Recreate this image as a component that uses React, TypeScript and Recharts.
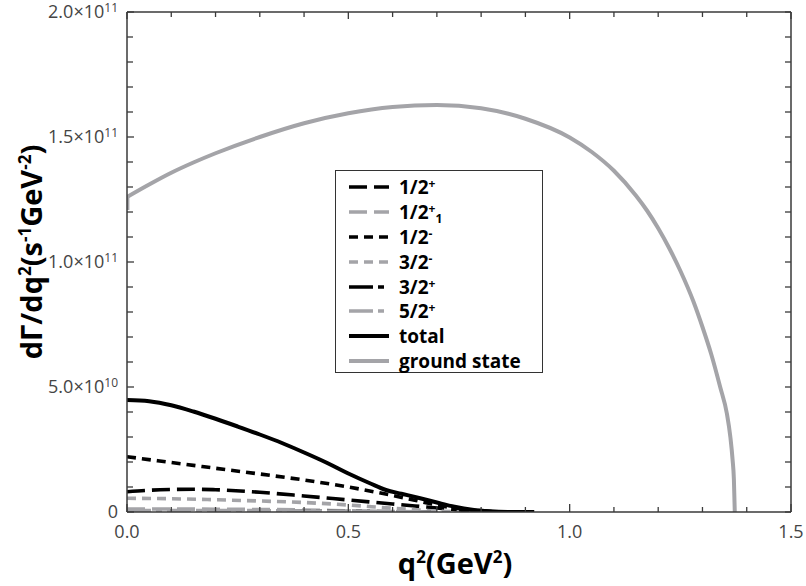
import React from 'react';
import { LineChart, Line, XAxis, YAxis } from 'recharts';

// q^2 in GeV^2, rates in units of 1e9 s^-1 GeV^-2
const qGround = [0, 0.05, 0.1, 0.15, 0.2, 0.3, 0.4, 0.5, 0.6, 0.7, 0.8, 0.9, 1.0, 1.05, 1.1, 1.15, 1.175, 1.2, 1.225, 1.25, 1.28, 1.3, 1.32, 1.34, 1.355, 1.363, 1.368, 1.371, 1.373];
const vGround = [126, 131, 135.7, 139.8, 143.5, 150, 155.5, 159.5, 162, 162.8, 161.5, 157.3, 149.8, 144, 136.5, 126.5, 120.5, 113.5, 105.5, 96.5, 84, 74, 63, 50, 39.5, 30, 21, 13, 0];

// short vertical step of the ground-state curve at q^2 = 0
const qGroundEdge = [0.002, 0.002];
const vGroundEdge = [120.8, 126];

const qTotal = [0, 0.05, 0.1, 0.15, 0.2, 0.25, 0.3, 0.35, 0.4, 0.45, 0.5, 0.55, 0.585, 0.62, 0.66, 0.7, 0.74, 0.78, 0.82, 0.86, 0.92];
const vTotal = [44.8, 44.3, 42.7, 40.2, 37.3, 34.2, 31.0, 27.6, 23.8, 19.8, 15.4, 11.4, 8.8, 7.3, 5.6, 3.8, 2.1, 0.9, 0.3, 0.05, 0];

const qHalfMinus = [0, 0.1, 0.2, 0.3, 0.4, 0.5, 0.6, 0.65, 0.7, 0.75, 0.8, 0.85];
const vHalfMinus = [22.1, 19.8, 17.5, 15.2, 12.8, 10.0, 6.6, 4.7, 2.8, 1.3, 0.4, 0];

const qHalfPlus = [0, 0.05, 0.1, 0.15, 0.2, 0.3, 0.4, 0.5, 0.6, 0.7, 0.75, 0.8, 0.83];
const vHalfPlus = [8.1, 8.7, 9.0, 9.1, 8.9, 7.9, 6.4, 4.8, 3.2, 1.6, 0.8, 0.2, 0];

const qThreeHalfMinus = [0, 0.1, 0.2, 0.3, 0.4, 0.5, 0.6, 0.7, 0.75];
const vThreeHalfMinus = [5.5, 5.3, 4.9, 4.4, 3.8, 2.8, 1.5, 0.4, 0];

const qHalfPlus1 = [0, 0.1, 0.2, 0.3, 0.4, 0.5, 0.6, 0.7];
const vHalfPlus1 = [1.2, 1.2, 1.1, 1.0, 0.8, 0.5, 0.2, 0];

const qThreeHalfPlus = [0, 0.2, 0.4, 0.6, 0.7];
const vThreeHalfPlus = [0.4, 0.4, 0.3, 0.1, 0];

const qFiveHalfPlus = [0, 0.2, 0.4, 0.6, 0.7];
const vFiveHalfPlus = [0.6, 0.6, 0.4, 0.1, 0];

const xTicks = [0, 0.1, 0.2, 0.3, 0.4, 0.5, 0.6, 0.7, 0.8, 0.9, 1.0, 1.1, 1.2, 1.3, 1.4, 1.5];
const xMajor = [0, 0.5, 1.0, 1.5];
const xLabels = ['0.0', '0.5', '1.0', '1.5'];

const yTicks = [0, 10, 20, 30, 40, 50, 60, 70, 80, 90, 100, 110, 120, 130, 140, 150, 160, 170, 180, 190, 200];
const yMajor = [0, 50, 100, 150, 200];
const yMantissa = ['0', '5.0', '1.0', '1.5', '2.0'];
const yExponent = ['', '10', '11', '11', '11'];

const BLACK = '#000000';
const GRAY = '#a4a4a8';
const AXIS = '#3a3a3a';
const FONT = '"Open Sans", "DejaVu Sans", sans-serif';

const toPts = (q: number[], v: number[]) => q.map((x, i) => ({ q: x, v: v[i] }));

type Series = {
  key: string;
  main: string;
  sup?: string;
  sub?: string;
  color: string;
  dash?: string;
  width: number;
  data: { q: number; v: number }[];
};

const series: Series[] = [
  { key: 'hp', main: '1/2', sup: '+', color: BLACK, dash: '18 7', width: 3.6, data: toPts(qHalfPlus, vHalfPlus) },
  { key: 'hp1', main: '1/2', sup: '+', sub: '1', color: GRAY, dash: '18 7', width: 3.6, data: toPts(qHalfPlus1, vHalfPlus1) },
  { key: 'hm', main: '1/2', sup: '-', color: BLACK, dash: '9 6', width: 3.6, data: toPts(qHalfMinus, vHalfMinus) },
  { key: 'thm', main: '3/2', sup: '-', color: GRAY, dash: '9 6', width: 3.6, data: toPts(qThreeHalfMinus, vThreeHalfMinus) },
  { key: 'thp', main: '3/2', sup: '+', color: BLACK, dash: '24 5 6 5', width: 3.6, data: toPts(qThreeHalfPlus, vThreeHalfPlus) },
  { key: 'fhp', main: '5/2', sup: '+', color: GRAY, dash: '24 5 6 5', width: 3.6, data: toPts(qFiveHalfPlus, vFiveHalfPlus) },
  { key: 'tot', main: 'total', color: BLACK, width: 4, data: toPts(qTotal, vTotal) },
  { key: 'gs', main: 'ground state', color: GRAY, width: 4, data: toPts(qGround, vGround) },
];

const isMajorX = (v: number) => xMajor.some((m) => Math.abs(m - v) < 1e-6);

const BottomTick = (props: any) => {
  const { x, y, payload } = props;
  const v = payload.value as number;
  const idx = xMajor.findIndex((m) => Math.abs(m - v) < 1e-6);
  const major = idx >= 0;
  return (
    <g>
      <line x1={x} x2={x} y1={y} y2={y - (major ? 8 : 5)} stroke={AXIS} strokeWidth={1.3} />
      {major && (
        <text x={x} y={y + 26} textAnchor="middle" fontFamily={FONT} fontSize={18} fill="#444">
          {xLabels[idx]}
        </text>
      )}
    </g>
  );
};

const TopTick = (props: any) => {
  const { x, y, payload } = props;
  const major = isMajorX(payload.value);
  return <line x1={x} x2={x} y1={y} y2={y + (major ? 7 : 5)} stroke={AXIS} strokeWidth={1.3} />;
};

const LeftTick = (props: any) => {
  const { x, y, payload } = props;
  const v = payload.value as number;
  const idx = yMajor.indexOf(v);
  const major = idx >= 0;
  return (
    <g>
      <line x1={x} x2={x + (major ? 7 : 6)} y1={y} y2={y} stroke={AXIS} strokeWidth={1.3} />
      {major && (
        <text x={x - 9} y={y + 6} textAnchor="end" fontFamily={FONT} fontSize={18} fill="#444">
          {yMantissa[idx]}
          {yExponent[idx] && (
            <>
              <tspan>×10</tspan>
              <tspan dy={-6} fontSize={12}>{yExponent[idx]}</tspan>
            </>
          )}
        </text>
      )}
    </g>
  );
};

const RightTick = (props: any) => {
  const { x, y } = props;
  return <line x1={x} x2={x - 6} y1={y} y2={y} stroke={AXIS} strokeWidth={1.3} />;
};

const XTitle = (props: any) => {
  const vb = props.viewBox || {};
  const cx = vb.x + vb.width / 2;
  return (
    <text x={cx - 4} y={vb.y + 62} textAnchor="middle" fontFamily={FONT} fontWeight="bold" fontSize={29} fill="#000">
      q<tspan dy={-11} fontSize={17}>2</tspan>
      <tspan dy={11}>(GeV</tspan>
      <tspan dy={-11} fontSize={17}>2</tspan>
      <tspan dy={11}>)</tspan>
    </text>
  );
};

const YTitle = (props: any) => {
  const vb = props.viewBox || {};
  const cx = 42;
  const cy = vb.y + vb.height / 2 - 10;
  return (
    <text
      x={cx}
      y={cy}
      transform={`rotate(-90 ${cx} ${cy})`}
      textAnchor="middle"
      fontFamily={FONT}
      fontWeight="bold"
      fontSize={29}
      fill="#000"
    >
      dΓ/dq<tspan dy={-11} fontSize={17}>2</tspan>
      <tspan dy={11}>(s</tspan>
      <tspan dy={-11} fontSize={17}>-1</tspan>
      <tspan dy={11}>GeV</tspan>
      <tspan dy={-11} fontSize={17}>-2</tspan>
      <tspan dy={11}>)</tspan>
    </text>
  );
};

const LegendBox = () => (
  <div
    style={{
      position: 'absolute',
      left: 335,
      top: 170,
      width: 206,
      height: 197,
      border: '1px solid #333',
      background: '#fff',
      boxSizing: 'content-box',
      fontFamily: FONT,
      fontWeight: 'bold',
      fontSize: 19,
      color: '#000',
      paddingTop: 4,
    }}
  >
    {series.map((s) => (
      <div key={s.key} style={{ display: 'flex', alignItems: 'center', height: 24.8, marginLeft: 13 }}>
        <svg width={40} height={8} style={{ marginRight: 10, flex: 'none' }}>
          <line x1={0} x2={40} y1={4} y2={4} stroke={s.color} strokeWidth={s.width} strokeDasharray={s.dash} />
        </svg>
        <span style={{ lineHeight: '20px', whiteSpace: 'nowrap' }}>
          {s.main}
          {s.sup && <sup style={{ fontSize: 12, verticalAlign: 6, lineHeight: 0 }}>{s.sup}</sup>}
          {s.sub && <sub style={{ fontSize: 12, verticalAlign: -4, lineHeight: 0 }}>{s.sub}</sub>}
        </span>
      </div>
    ))}
  </div>
);

export default function App() {
  return (
    <div style={{ position: 'absolute', left: 0, top: 0, width: 806, height: 586, background: '#fff' }}>
      <LineChart width={806} height={586} margin={{ top: 0, right: 0, bottom: 0, left: 0 }}>
        <XAxis
          xAxisId="b"
          dataKey="q"
          type="number"
          domain={[0, 1.5]}
          ticks={xTicks}
          interval={0}
          orientation="bottom"
          height={74}
          tickSize={0}
          tickMargin={0}
          tickLine={false}
          axisLine={{ stroke: AXIS, strokeWidth: 1.5 }}
          tick={<BottomTick />}
          allowDataOverflow
          label={<XTitle />}
        />
        <XAxis
          xAxisId="t"
          dataKey="q"
          type="number"
          domain={[0, 1.5]}
          ticks={xTicks}
          interval={0}
          orientation="top"
          height={12}
          tickSize={0}
          tickMargin={0}
          tickLine={false}
          axisLine={{ stroke: AXIS, strokeWidth: 1.5 }}
          tick={<TopTick />}
          allowDataOverflow
        />
        <YAxis
          yAxisId="l"
          type="number"
          domain={[0, 200]}
          ticks={yTicks}
          interval={0}
          orientation="left"
          width={127}
          tickSize={0}
          tickMargin={0}
          tickLine={false}
          axisLine={{ stroke: AXIS, strokeWidth: 1.5 }}
          tick={<LeftTick />}
          allowDataOverflow
          label={<YTitle />}
        />
        <YAxis
          yAxisId="r"
          type="number"
          domain={[0, 200]}
          ticks={yTicks}
          interval={0}
          orientation="right"
          width={15}
          tickSize={0}
          tickMargin={0}
          tickLine={false}
          axisLine={{ stroke: AXIS, strokeWidth: 1.5 }}
          tick={<RightTick />}
          allowDataOverflow
        />
        <Line
          xAxisId="b"
          yAxisId="l"
          data={toPts(qGroundEdge, vGroundEdge)}
          dataKey="v"
          type="linear"
          stroke={GRAY}
          strokeWidth={3}
          dot={false}
          activeDot={false}
          legendType="none"
          isAnimationActive={false}
        />
        {series.map((s) => (
          <Line
            key={s.key}
            xAxisId="b"
            yAxisId="l"
            data={s.data}
            dataKey="v"
            type="monotone"
            stroke={s.color}
            strokeWidth={s.width}
            strokeDasharray={s.dash}
            dot={false}
            activeDot={false}
            isAnimationActive={false}
          />
        ))}
      </LineChart>
      <LegendBox />
    </div>
  );
}
